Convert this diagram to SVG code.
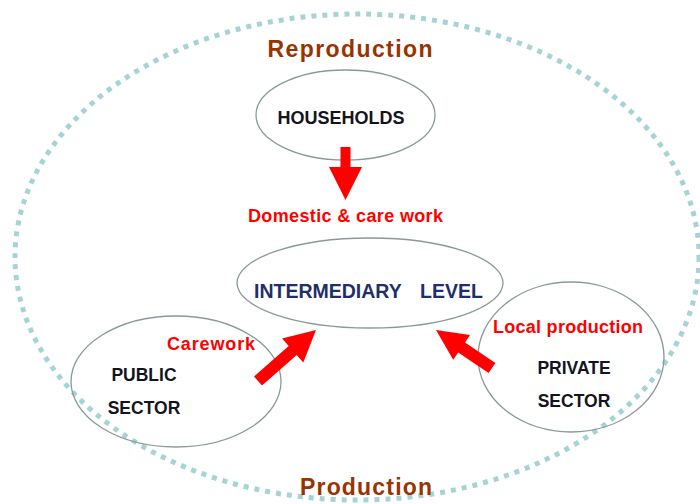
<svg xmlns="http://www.w3.org/2000/svg" width="700" height="504" viewBox="0 0 700 504">
<style>
.node{fill:none;stroke:#8a9a9c;stroke-width:1.3}
.lbl{font-family:"Liberation Sans",Arial,sans-serif;font-weight:bold;fill:#141420;text-anchor:middle}
.red{font-family:"Liberation Sans",Arial,sans-serif;font-weight:bold;fill:#ff0000}
.title{font-family:"Liberation Sans",Arial,sans-serif;font-weight:bold;fill:#993300;font-size:23px;text-anchor:middle}
.arrow{fill:#ff0000}
</style>
<rect width="700" height="504" fill="#ffffff"/>
<ellipse id="outer" cx="357" cy="257" rx="342" ry="243" fill="none" stroke="#a6d3d6" stroke-width="5" stroke-dasharray="5 6"/>
<text class="title" x="350" y="57" textLength="165">Reproduction</text>
<text class="title" x="366" y="495" textLength="132">Production</text>
<g id="households">
<ellipse class="node" cx="345.5" cy="115" rx="89.5" ry="45"/>
<text class="lbl" x="341" y="124" font-size="18">HOUSEHOLDS</text>
</g>
<g id="intermediary">
<ellipse class="node" cx="370" cy="283" rx="133" ry="45"/>
<text class="lbl" x="254" y="298" font-size="19.5" style="fill:#1f2f6a;text-anchor:start">INTERMEDIARY<tspan x="420">LEVEL</tspan></text>
</g>
<g id="public">
<ellipse class="node" cx="176" cy="381.5" rx="105" ry="65.5"/>
<text class="lbl" x="144" y="381" font-size="17.5">PUBLIC</text>
<text class="lbl" x="144" y="414" font-size="17.5">SECTOR</text>
</g>
<g id="private">
<ellipse class="node" cx="571" cy="357" rx="93" ry="75"/>
<text class="lbl" x="574" y="374" font-size="17.5">PRIVATE</text>
<text class="lbl" x="574" y="407" font-size="17.5">SECTOR</text>
</g>
<g id="connectors">
<polygon class="arrow" points="340.5,147 350.5,147 350.5,167 362,167 345.5,200 329,167 340.5,167"/>
<polygon class="arrow" points="254,376.5 288.7,346 282.1,338.5 316,330 303.3,362.5 296.7,355 262,385.5"/>
<polygon class="arrow" points="495.4,363 465,342.4 470,335 436,330 453.2,359.8 458.2,352.4 488.6,373"/>
<text class="red" x="248" y="222" font-size="18" textLength="195">Domestic &amp; care work</text>
<text class="red" x="167" y="350" font-size="18" textLength="88">Carework</text>
<text class="red" x="493" y="333" font-size="18" textLength="150">Local production</text>
</g>
</svg>
